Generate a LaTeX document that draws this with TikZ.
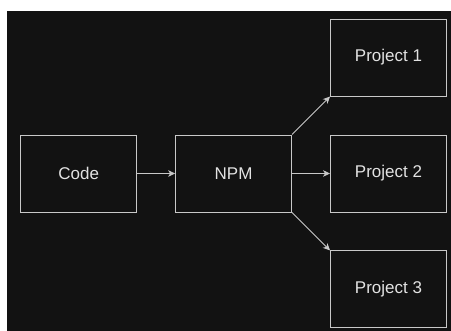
\documentclass[tikz,border=0pt]{standalone}
\usepackage{fontspec}
\setmainfont{Liberation Sans}
\usepackage{tikz}
\usetikzlibrary{shapes,arrows.meta,positioning,calc}
\definecolor{bgdark}{HTML}{121212}
\definecolor{edgegray}{HTML}{C8C8C8}
\definecolor{textgray}{HTML}{E2E2E2}

\begin{document}
\begin{tikzpicture}[x=1pt, y=1pt, node distance=38pt,
  box/.style={rectangle,draw=edgegray,line width=0.9pt,minimum width=116pt,minimum height=77pt,align=center,text=textgray,font=\fontsize{17}{20}\selectfont},
  arrow/.style={-{Stealth[length=7pt,width=6.5pt,inset=2pt]},edgegray,line width=0.9pt}]
\useasboundingbox (0,0) rectangle (451,331);
\fill[white] (0,0) rectangle (451,331);
\fill[bgdark] (7,0) rectangle (451,320);
\node[box] (code) at (78.7,157.5) {Code};
\node[box,right=of code] (npm) {NPM};
\node[box,right=of npm] (proj2) {Project 2};
\node[box,above=of proj2] (proj1) {Project 1};
\node[box,below=of proj2] (proj3) {Project 3};
\draw[arrow] (code)--(npm); \draw[arrow] (npm)--(proj2);
\draw[arrow] (npm.north east)--(proj1.south west);
\draw[arrow] (npm.south east)--(proj3.north west);
\end{tikzpicture}
\end{document}
